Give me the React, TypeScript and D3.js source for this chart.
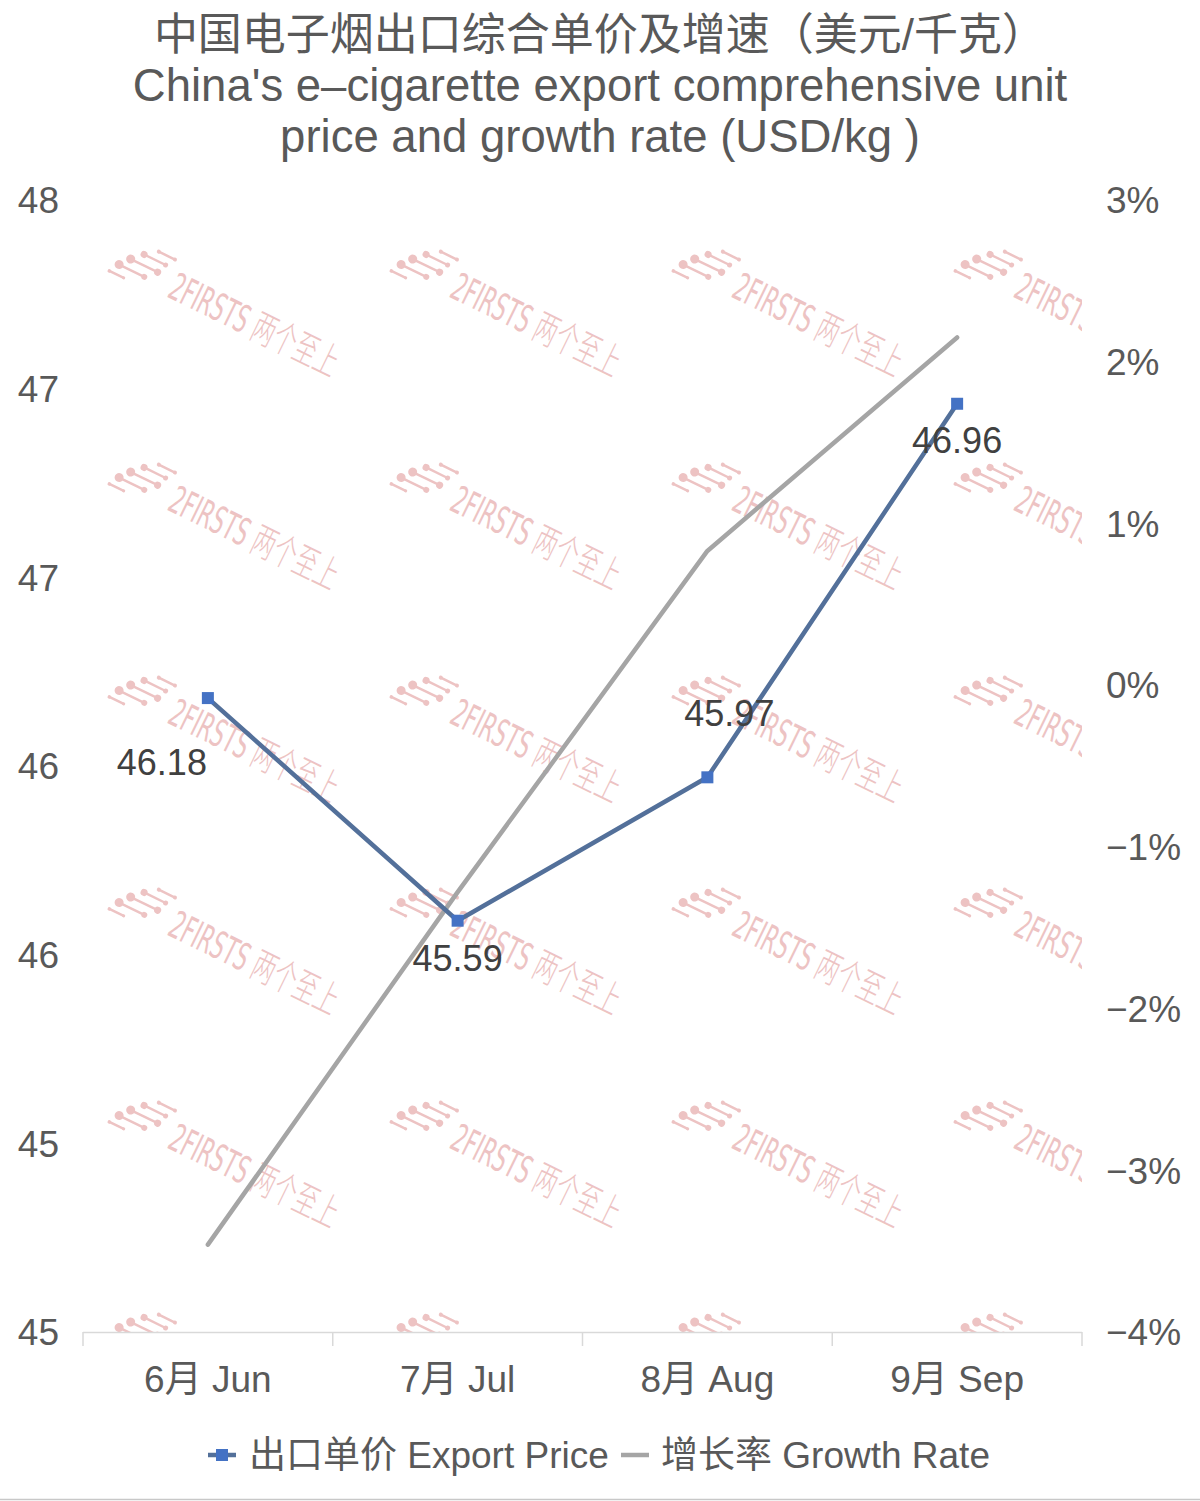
// @ts-nocheck
import * as d3 from "d3";
import React from "react";

const months = ["6月 Jun", "7月 Jul", "8月 Aug", "9月 Sep"];
const exportPrice = [46.18, 45.59, 45.97, 46.96];
const growthRate = [-3.46, -1.28, 0.83, 2.15];

const leftTicks = [47.5, 47, 46.5, 46, 45.5, 45, 44.5];
const leftTickLabels = ["48", "47", "47", "46", "46", "45", "45"];
const rightTicks = [3, 2, 1, 0, -1, -2, -3, -4];
const rightTickLabels = ["3%", "2%", "1%", "0%", "−1%", "−2%", "−3%", "−4%"];

const titleLines = [
  "中国电子烟出口综合单价及增速（美元/千克）",
  "China's e–cigarette export comprehensive unit",
  "price and growth rate (USD/kg )",
];
const legendLabels = ["出口单价 Export Price", "增长率 Growth Rate"];

// label offsets relative to each point (Excel placed them by hand)
const labelOffsets = [
  [-46, 77],
  [0, 50],
  [22, -51],
  [0, 49],
];

const W = 1200;
const H = 1501;
const plot = { left: 83, right: 1082, top: 200, bottom: 1332 };
const FONT = "'Liberation Sans', 'Noto Sans CJK SC', sans-serif";
const BLUE_LINE = "#53709a";
const BLUE_MARK = "#4472c4";
const GRAY = "#a5a5a5";
const TEXT = "#595959";
const WM = "#edc3c3";

function Watermark({ x, y }) {
  const segs = [
    [-2, 2, 14, 2, 1.8, 1.5],
    [4, -8, 32, -8, 4.5, 3],
    [12, -18, 42, -18, 4.5, 3.5],
    [22, -28, 46, -28, 3.5, 2.5],
    [34, -37, 52, -37, 2, 2],
  ];
  return (
    <g transform={`translate(${x},${y}) rotate(26)`} fill={WM} stroke={WM}>
      {segs.map((s, i) => (
        <g key={i}>
          <line x1={s[0]} y1={s[1]} x2={s[2]} y2={s[3]} strokeWidth={2.5} />
          <circle cx={s[0]} cy={s[1]} r={s[4]} stroke="none" />
          <circle cx={s[2]} cy={s[3]} r={s[5]} stroke="none" />
        </g>
      ))}
      <text
        x={60}
        y={0}
        fontSize={38}
        stroke="none"
        fontFamily="'Liberation Sans Narrow', 'DejaVu Sans Condensed', 'Noto Sans CJK SC', sans-serif"
        fontWeight={300}
        textLength={184}
        lengthAdjust="spacingAndGlyphs"
      >
        2FIRSTS 两个至上
      </text>
    </g>
  );
}

export default function App() {
  const x = d3.scaleBand().domain(months).range([plot.left, plot.right]);
  const cx = (m) => x(m) + x.bandwidth() / 2;
  const yL = d3.scaleLinear().domain([44.5, 47.5]).range([plot.bottom, plot.top]);
  const yR = d3.scaleLinear().domain([-4, 3]).range([plot.bottom, plot.top]);

  const priceLine = d3
    .line()
    .x((d, i) => cx(months[i]))
    .y((d) => yL(d))(exportPrice);
  const growthLine = d3
    .line()
    .x((d, i) => cx(months[i]))
    .y((d) => yR(d))(growthRate);

  const wmCols = [112, 394, 676, 958];
  const wmRows = [270, 483, 696, 908, 1121, 1333];
  const bounds = [plot.left, ...months.map((m) => x(m) + x.bandwidth())];

  return (
    <svg
      width={W}
      height={H}
      style={{ position: "absolute", left: 0, top: 0, background: "#fff" }}
      fontFamily={FONT}
    >
      <rect width={W} height={H} fill="#fff" />
      <defs>
        <clipPath id="plotClip">
          <rect x={plot.left} y={170} width={plot.right - plot.left} height={plot.bottom - 170} />
        </clipPath>
      </defs>

      {titleLines.map((t, i) => (
        <text key={i} x={W / 2} y={50 + i * 51} textAnchor="middle" fontSize={i === 0 ? 44 : 45.5} fill={TEXT}>
          {t}
        </text>
      ))}

      <g clipPath="url(#plotClip)">
        {wmRows.map((ry) => wmCols.map((rx) => <Watermark key={`${rx}-${ry}`} x={rx} y={ry} />))}
      </g>

      {/* x axis */}
      <line x1={plot.left} x2={plot.right} y1={plot.bottom + 0.5} y2={plot.bottom + 0.5} stroke="#d9d9d9" strokeWidth={1.5} />
      {bounds.map((b, i) => (
        <line key={i} x1={b} x2={b} y1={plot.bottom} y2={plot.bottom + 14} stroke="#d9d9d9" strokeWidth={1.5} />
      ))}
      {months.map((m) => (
        <text key={m} x={cx(m)} y={1392} textAnchor="middle" fontSize={37} fill={TEXT}>
          {m}
        </text>
      ))}

      {/* left axis */}
      {leftTicks.map((t, i) => (
        <text key={i} x={59} y={yL(t)} dy="0.36em" textAnchor="end" fontSize={37} fill={TEXT}>
          {leftTickLabels[i]}
        </text>
      ))}
      {/* right axis */}
      {rightTicks.map((t, i) => (
        <text key={i} x={1106} y={yR(t)} dy="0.36em" textAnchor="start" fontSize={37} fill={TEXT}>
          {rightTickLabels[i]}
        </text>
      ))}

      <path d={growthLine} fill="none" stroke={GRAY} strokeWidth={4.5} strokeLinecap="round" strokeLinejoin="round" />
      <path d={priceLine} fill="none" stroke={BLUE_LINE} strokeWidth={4.5} strokeLinejoin="round" />
      {exportPrice.map((v, i) => (
        <rect key={i} x={cx(months[i]) - 6} y={yL(v) - 6} width={12} height={12} fill={BLUE_MARK} />
      ))}
      {exportPrice.map((v, i) => (
        <text
          key={i}
          x={cx(months[i]) + labelOffsets[i][0]}
          y={yL(v) + labelOffsets[i][1]}
          textAnchor="middle"
          fontSize={36}
          fill="#404040"
        >
          {v.toFixed(2)}
        </text>
      ))}

      {/* legend */}
      <line x1={208} x2={236} y1={1455} y2={1455} stroke={BLUE_LINE} strokeWidth={4.5} />
      <rect x={216} y={1449} width={12} height={12} fill={BLUE_MARK} />
      <text x={249} y={1468} fontSize={37} fill={TEXT}>
        {legendLabels[0]}
      </text>
      <line x1={621} x2={649} y1={1455} y2={1455} stroke={GRAY} strokeWidth={4.5} />
      <text x={661} y={1468} fontSize={37} fill={TEXT}>
        {legendLabels[1]}
      </text>

      <line x1={0} x2={W} y1={1499.5} y2={1499.5} stroke="#c8c8c8" strokeWidth={1.5} />
    </svg>
  );
}
